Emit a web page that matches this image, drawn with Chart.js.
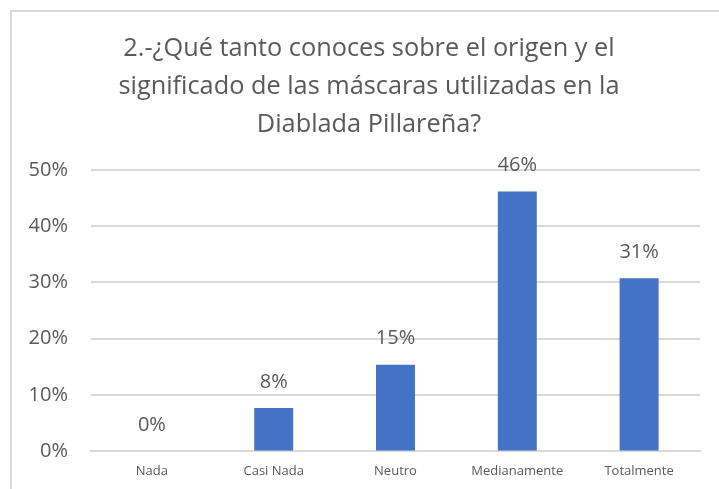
<!DOCTYPE html>
<html>
<head>
<meta charset="utf-8">
<script src="https://cdn.jsdelivr.net/npm/chart.js@4/dist/chart.umd.min.js"></script>
<style>
  body { margin: 0; background: #fff; overflow: hidden; }
  #marco {
    position: absolute; left: 10px; top: 10px;
    width: 730px; height: 500px;
    border: 2px solid #d9d9d9; box-sizing: border-box;
  }
  #grafico { position: absolute; left: 0; top: 0; }
</style>
</head>
<body>
<div id="marco"><canvas id="grafico" width="726" height="484"></canvas></div>
<script>
// Datos del gráfico
const categorias = ['Nada', 'Casi Nada', 'Neutro', 'Medianamente', 'Totalmente'];
const porcentajes = [0, 7.69, 15.38, 46.15, 30.77];
const titulo = [
    '2.-¿Qué tanto conoces sobre el origen y el',
    'significado de las máscaras utilizadas en la',
    'Diablada Pillareña?'
];
const ticksY = [0, 10, 20, 30, 40, 50];

const grisTexto = '#595959';
const fuente = "'Open Sans', sans-serif";

// Etiquetas de valor encima de las barras
const etiquetasPlugin = {
    id: 'etiquetas',
    afterLayout(chart) {
        // el título va centrado en el marco, no en el área de barras
        if (chart.titleBlock) chart.titleBlock.left = 26;
    },
    afterDatasetsDraw(chart) {
        const ctx = chart.ctx;
        const meta = chart.getDatasetMeta(0);
        ctx.save();
        ctx.fillStyle = grisTexto;
        ctx.font = '20px ' + fuente;
        ctx.textAlign = 'center';
        ctx.textBaseline = 'middle';
        meta.data.forEach((bar, i) => {
            ctx.fillText(Math.round(porcentajes[i]) + '%', bar.x, bar.y - 26);
        });
        ctx.restore();
    }
};

new Chart(document.getElementById('grafico'), {
    type: 'bar',
    data: {
        labels: categorias,
        datasets: [{
            data: porcentajes,
            backgroundColor: '#4472C4',
            barPercentage: 0.32,
            categoryPercentage: 1
        }]
    },
    options: {
        responsive: false,
        animation: false,
        layout: { padding: { left: 0, right: 38, top: 0, bottom: 13 } },
        plugins: {
            legend: { display: false },
            tooltip: { enabled: false },
            title: {
                display: true,
                text: titulo,
                color: grisTexto,
                font: { family: fuente, size: 25.3, weight: 'normal', lineHeight: 1.5 },
                padding: { top: 18, bottom: 26 }
            }
        },
        scales: {
            x: {
                grid: { display: false },
                border: { color: '#d9d9d9', width: 2 },
                ticks: { color: grisTexto, font: { family: fuente, size: 13 }, padding: 4 }
            },
            y: {
                min: 0,
                max: 50,
                afterFit: s => { s.width = 79; },
                afterBuildTicks: s => { s.ticks = ticksY.map(v => ({ value: v })); },
                grid: { color: '#d9d9d9', lineWidth: 2, drawTicks: false },
                border: { display: false },
                ticks: {
                    color: grisTexto,
                    font: { family: fuente, size: 20 },
                    padding: 23,
                    callback: v => v + '%'
                }
            }
        }
    },
    plugins: [etiquetasPlugin]
});
</script>
</body>
</html>
